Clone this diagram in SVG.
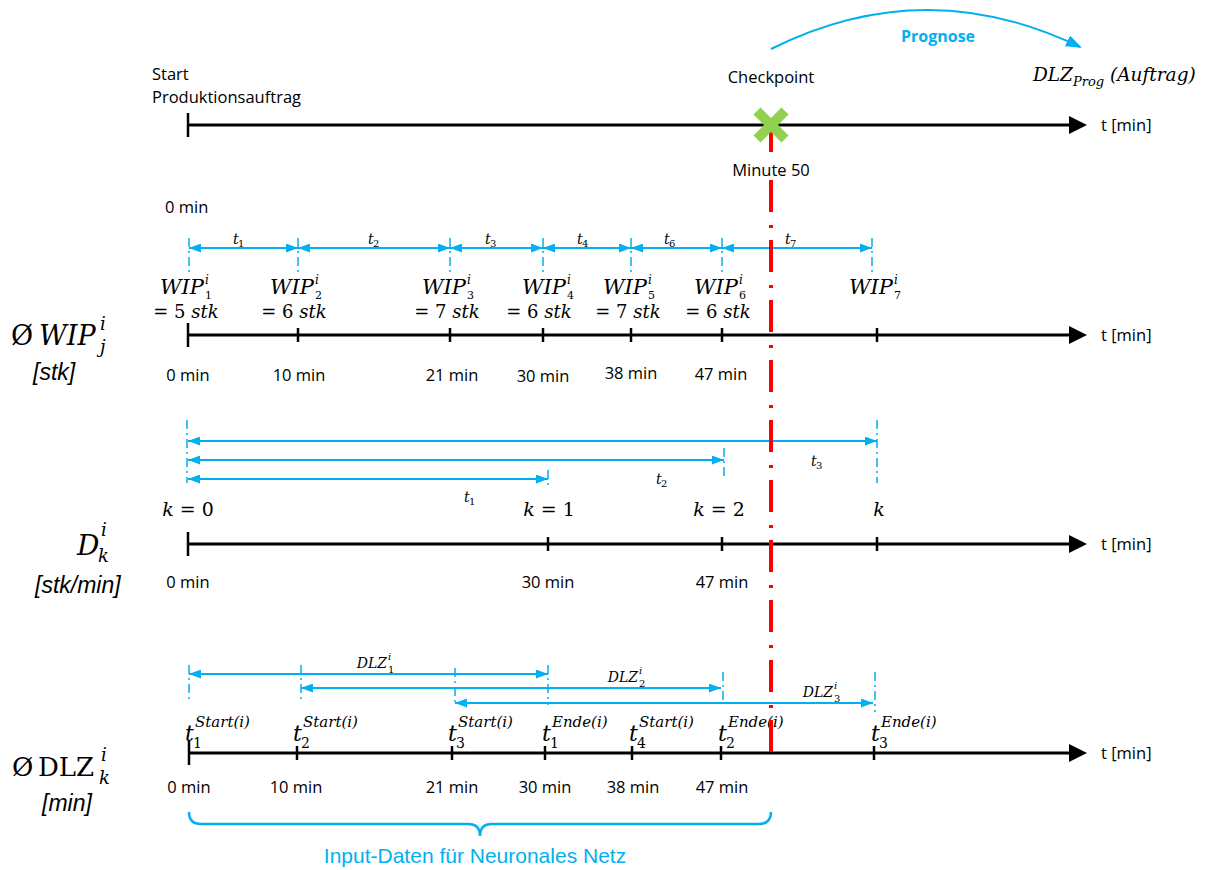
<svg xmlns="http://www.w3.org/2000/svg" width="1210" height="870" viewBox="0 0 1210 870">
<defs>
<style>
.ax{stroke:#000;stroke-width:3;fill:none}
.tk{stroke:#000;stroke-width:2.5}
.dim{stroke:#00B0F0;stroke-width:2;fill:none;marker-start:url(#ah);marker-end:url(#ah)}
.ext{stroke:#00B0F0;stroke-width:1.5;stroke-dasharray:9 4 2 4;fill:none}
.s{font-family:"Open Sans",sans-serif;font-size:16.5px;fill:#000}
.m{font-family:"DejaVu Serif",serif;font-style:italic;fill:#000}
.u{font-style:normal}
.lab{font-family:"Liberation Sans",Arial,sans-serif;font-style:italic;font-size:23px;fill:#000}
.c{text-anchor:middle}
.e{text-anchor:end}
.red{stroke:#FF0000;stroke-width:4;stroke-dasharray:32 13 3 12;fill:none}
</style>
<marker id="ah" viewBox="0 0 12 9" refX="12" refY="4.5" markerWidth="12" markerHeight="9" markerUnits="userSpaceOnUse" orient="auto-start-reverse"><path d="M0,0L12,4.5L0,9z" fill="#00B0F0"/></marker>
<marker id="ap" viewBox="0 0 16 12" refX="14" refY="6" markerWidth="16" markerHeight="12" markerUnits="userSpaceOnUse" orient="auto"><path d="M0,0L16,6L0,12z" fill="#00B0F0"/></marker>
<polygon id="arr" points="0,-9 18,0 0,9" fill="#000"/>
</defs>
<rect width="1210" height="870" fill="#fff"/>

<!-- top timeline -->
<g id="axis-top">
<line class="ax" x1="188" y1="125" x2="1072" y2="125"/>
<use href="#arr" x="1069" y="125"/>
<line class="tk" x1="188" y1="113" x2="188" y2="137"/>
<text class="s" x="1101" y="131">t [min]</text>
<text class="s" x="152" y="80">Start</text>
<text class="s" x="152" y="103">Produktionsauftrag</text>
<text class="s" x="165" y="213">0 min</text>
</g>

<!-- WIP timeline -->
<g id="axis-wip">
<line class="ax" x1="188" y1="335" x2="1072" y2="335"/>
<use href="#arr" x="1069" y="335"/>
<line class="tk" x1="188" y1="323" x2="188" y2="347"/>
<line class="tk" x1="298" y1="328" x2="298" y2="342"/>
<line class="tk" x1="450" y1="328" x2="450" y2="342"/>
<line class="tk" x1="543" y1="328" x2="543" y2="342"/>
<line class="tk" x1="631" y1="328" x2="631" y2="342"/>
<line class="tk" x1="722" y1="328" x2="722" y2="342"/>
<line class="tk" x1="877" y1="328" x2="877" y2="342"/>
<text class="s" x="1101" y="341">t [min]</text>
<text class="s c" x="188" y="381">0 min</text>
<text class="s c" x="299" y="381">10 min</text>
<text class="s c" x="452" y="381">21 min</text>
<text class="s c" x="543" y="382">30 min</text>
<text class="s c" x="631" y="379">38 min</text>
<text class="s c" x="721" y="380">47 min</text>
</g>

<g id="label-wip">
<text class="m u" font-size="27" x="11" y="345">Ø</text>
<text class="m" font-size="27" x="39" y="345">WIP</text>
<text class="m" font-size="18" x="100" y="330">i</text>
<text class="m" font-size="18" x="100" y="353">j</text>
<text class="lab" x="33" y="380">[stk]</text>
</g>

<g id="wip-values" class="m" font-size="21">
<text class="e" x="204" y="294">WIP</text><text x="205" y="284" font-size="12">i</text><text class="u" x="205" y="299" font-size="11">1</text>
<text class="c" x="186" y="318" font-size="18"><tspan class="u">= 5 </tspan>stk</text>
<text class="e" x="314" y="294">WIP</text><text x="315" y="284" font-size="12">i</text><text class="u" x="315" y="299" font-size="11">2</text>
<text class="c" x="294" y="318" font-size="18"><tspan class="u">= 6 </tspan>stk</text>
<text class="e" x="466" y="294">WIP</text><text x="467" y="284" font-size="12">i</text><text class="u" x="467" y="299" font-size="11">3</text>
<text class="c" x="447" y="318" font-size="18"><tspan class="u">= 7 </tspan>stk</text>
<text class="e" x="566" y="294">WIP</text><text x="567" y="284" font-size="12">i</text><text class="u" x="567" y="299" font-size="11">4</text>
<text class="c" x="539" y="318" font-size="18"><tspan class="u">= 6 </tspan>stk</text>
<text class="e" x="647" y="294">WIP</text><text x="648" y="284" font-size="12">i</text><text class="u" x="648" y="299" font-size="11">5</text>
<text class="c" x="628" y="318" font-size="18"><tspan class="u">= 7 </tspan>stk</text>
<text class="e" x="738" y="294">WIP</text><text x="739" y="284" font-size="12">i</text><text class="u" x="739" y="299" font-size="11">6</text>
<text class="c" x="718" y="318" font-size="18"><tspan class="u">= 6 </tspan>stk</text>
<text class="e" x="893" y="294">WIP</text><text x="894" y="284" font-size="12">i</text><text class="u" x="894" y="299" font-size="11">7</text>
</g>

<g id="wip-intervals" class="m" font-size="14">
<text x="233" y="244">t</text><text class="u" x="238" y="247" font-size="10">1</text>
<text x="368" y="244">t</text><text class="u" x="373" y="247" font-size="10">2</text>
<text x="485" y="244">t</text><text class="u" x="490" y="247" font-size="10">3</text>
<text x="577" y="244">t</text><text class="u" x="582" y="247" font-size="10">4</text>
<text x="664" y="244">t</text><text class="u" x="669" y="247" font-size="10">6</text>
<text x="785" y="244">t</text><text class="u" x="790" y="247" font-size="10">7</text>
</g>

<!-- D timeline -->
<g id="axis-d">
<line class="ax" x1="188" y1="544" x2="1072" y2="544"/>
<use href="#arr" x="1069" y="544"/>
<line class="tk" x1="188" y1="532" x2="188" y2="556"/>
<line class="tk" x1="548" y1="537" x2="548" y2="551"/>
<line class="tk" x1="722" y1="537" x2="722" y2="551"/>
<line class="tk" x1="877" y1="537" x2="877" y2="551"/>
<text class="s" x="1101" y="550">t [min]</text>
<text class="s c" x="188" y="588">0 min</text>
<text class="s c" x="548" y="588">30 min</text>
<text class="s c" x="722" y="588">47 min</text>
</g>

<g id="label-d">
<text class="m" font-size="28" x="77" y="555">D</text>
<text class="m" font-size="18" x="101" y="536">i</text>
<text class="m" font-size="18" x="98" y="562">k</text>
<text class="lab" x="35" y="593">[stk/min]</text>
</g>

<g id="d-values" class="m" font-size="19">
<text class="c" x="188" y="516">k<tspan class="u"> = 0</tspan></text>
<text class="c" x="549" y="516">k<tspan class="u"> = 1</tspan></text>
<text class="c" x="719" y="516">k<tspan class="u"> = 2</tspan></text>
<text class="c" x="879" y="516">k</text>
<text x="464" y="502" font-size="14">t</text><text class="u" x="469" y="505" font-size="10">1</text>
<text x="656" y="484" font-size="14">t</text><text class="u" x="661" y="487" font-size="10">2</text>
<text x="811" y="466" font-size="14">t</text><text class="u" x="816" y="469" font-size="10">3</text>
</g>

<!-- DLZ timeline -->
<g id="axis-dlz">
<line class="ax" x1="189" y1="753" x2="1072" y2="753"/>
<use href="#arr" x="1069" y="753"/>
<line class="tk" x1="189" y1="741" x2="189" y2="765"/>
<line class="tk" x1="297" y1="746" x2="297" y2="760"/>
<line class="tk" x1="452" y1="746" x2="452" y2="760"/>
<line class="tk" x1="545" y1="746" x2="545" y2="760"/>
<line class="tk" x1="632" y1="746" x2="632" y2="760"/>
<line class="tk" x1="721" y1="746" x2="721" y2="760"/>
<line class="tk" x1="874" y1="746" x2="874" y2="760"/>
<text class="s" x="1101" y="759">t [min]</text>
<text class="s c" x="189" y="793">0 min</text>
<text class="s c" x="296" y="793">10 min</text>
<text class="s c" x="452" y="793">21 min</text>
<text class="s c" x="545" y="793">30 min</text>
<text class="s c" x="633" y="793">38 min</text>
<text class="s c" x="722" y="793">47 min</text>
</g>

<g id="label-dlz">
<text class="m u" font-size="26" x="12" y="776">Ø</text>
<text class="m u" font-size="26" x="38" y="776">DLZ</text>
<text class="m" font-size="18" x="101" y="761">i</text>
<text class="m" font-size="18" x="99" y="784">k</text>
<text class="lab" x="42" y="811">[min]</text>
</g>

<g id="dlz-points" class="m">
<text x="185" y="741" font-size="22">t</text><text class="u" x="193" y="748" font-size="14">1</text><text x="195" y="727" font-size="15">Start(i)</text>
<text x="293" y="741" font-size="22">t</text><text class="u" x="301" y="748" font-size="14">2</text><text x="303" y="727" font-size="15">Start(i)</text>
<text x="448" y="741" font-size="22">t</text><text class="u" x="456" y="748" font-size="14">3</text><text x="458" y="727" font-size="15">Start(i)</text>
<text x="542" y="741" font-size="22">t</text><text class="u" x="550" y="748" font-size="14">1</text><text x="552" y="727" font-size="15">Ende(i)</text>
<text x="629" y="741" font-size="22">t</text><text class="u" x="637" y="748" font-size="14">4</text><text x="639" y="727" font-size="15">Start(i)</text>
<text x="718" y="741" font-size="22">t</text><text class="u" x="726" y="748" font-size="14">2</text><text x="728" y="727" font-size="15">Ende(i)</text>
<text x="871" y="741" font-size="22">t</text><text class="u" x="879" y="748" font-size="14">3</text><text x="881" y="727" font-size="15">Ende(i)</text>
</g>

<g id="dlz-values" class="m" font-size="14">
<text class="e" x="387" y="668">DLZ</text><text x="388" y="660" font-size="10">i</text><text class="u" x="388" y="673" font-size="10">1</text>
<text class="e" x="638" y="682">DLZ</text><text x="639" y="674" font-size="10">i</text><text class="u" x="639" y="687" font-size="10">2</text>
<text class="e" x="833" y="697">DLZ</text><text x="834" y="689" font-size="10">i</text><text class="u" x="834" y="702" font-size="10">3</text>
</g>

<!-- connectors -->
<g id="connectors">
<line class="ext" x1="189" y1="238" x2="189" y2="272"/>
<line class="ext" x1="298" y1="238" x2="298" y2="272"/>
<line class="ext" x1="450" y1="238" x2="450" y2="272"/>
<line class="ext" x1="543" y1="238" x2="543" y2="272"/>
<line class="ext" x1="631" y1="238" x2="631" y2="272"/>
<line class="ext" x1="722" y1="238" x2="722" y2="272"/>
<line class="ext" x1="872" y1="238" x2="872" y2="272"/>
<line class="dim" x1="189" y1="248" x2="298" y2="248"/>
<line class="dim" x1="298" y1="248" x2="450" y2="248"/>
<line class="dim" x1="450" y1="248" x2="543" y2="248"/>
<line class="dim" x1="543" y1="248" x2="631" y2="248"/>
<line class="dim" x1="631" y1="248" x2="722" y2="248"/>
<line class="dim" x1="722" y1="248" x2="872" y2="248"/>

<line class="ext" x1="187" y1="420" x2="187" y2="483"/>
<line class="ext" x1="548" y1="470" x2="548" y2="488"/>
<line class="ext" x1="724" y1="448" x2="724" y2="476"/>
<line class="ext" x1="877" y1="420" x2="877" y2="483"/>
<line class="dim" x1="188" y1="441" x2="877" y2="441"/>
<line class="dim" x1="188" y1="460" x2="724" y2="460"/>
<line class="dim" x1="188" y1="479" x2="548" y2="479"/>

<line class="ext" x1="189" y1="665" x2="189" y2="703"/>
<line class="ext" x1="301" y1="665" x2="301" y2="703"/>
<line class="ext" x1="455" y1="668" x2="455" y2="706"/>
<line class="ext" x1="548" y1="665" x2="548" y2="705"/>
<line class="ext" x1="723" y1="672" x2="723" y2="704"/>
<line class="ext" x1="875" y1="672" x2="875" y2="712"/>
<line class="dim" x1="189" y1="674" x2="548" y2="674"/>
<line class="dim" x1="301" y1="688" x2="721" y2="688"/>
<line class="dim" x1="455" y1="703" x2="873" y2="703"/>

<path d="M771,49 Q925,-28 1080,47" fill="none" stroke="#00B0F0" stroke-width="2" marker-end="url(#ap)"/>
</g>

<!-- checkpoint -->
<g id="checkpoint">
<line class="red" x1="771" y1="120" x2="771" y2="752"/>
<rect x="726" y="157" width="90" height="22" fill="#fff"/>
<text class="s c" x="771" y="176">Minute 50</text>
<g stroke="#92D050" stroke-width="10">
<line x1="757" y1="111" x2="785" y2="139"/>
<line x1="785" y1="111" x2="757" y2="139"/>
</g>
<text class="s c" x="771" y="83">Checkpoint</text>
</g>

<g id="prognose">
<text x="938" y="42" font-family="Open Sans, sans-serif" font-weight="bold" font-size="16" fill="#00B0F0" text-anchor="middle">Prognose</text>
<text class="m" font-size="18.5" x="1033" y="81">DLZ<tspan font-size="13" dy="5">Prog</tspan><tspan dy="-5"> (Auftrag)</tspan></text>
</g>

<g id="input-brace">
<path d="M189,812 Q189,824 201,824 L468,824 Q480,824 480,836 Q480,824 492,824 L759,824 Q771,824 771,812" fill="none" stroke="#00B0F0" stroke-width="2.5"/>
<text x="475" y="863" font-family="Liberation Sans, Arial, sans-serif" font-size="21" fill="#00B0F0" text-anchor="middle">Input-Daten für Neuronales Netz</text>
</g>
</svg>
